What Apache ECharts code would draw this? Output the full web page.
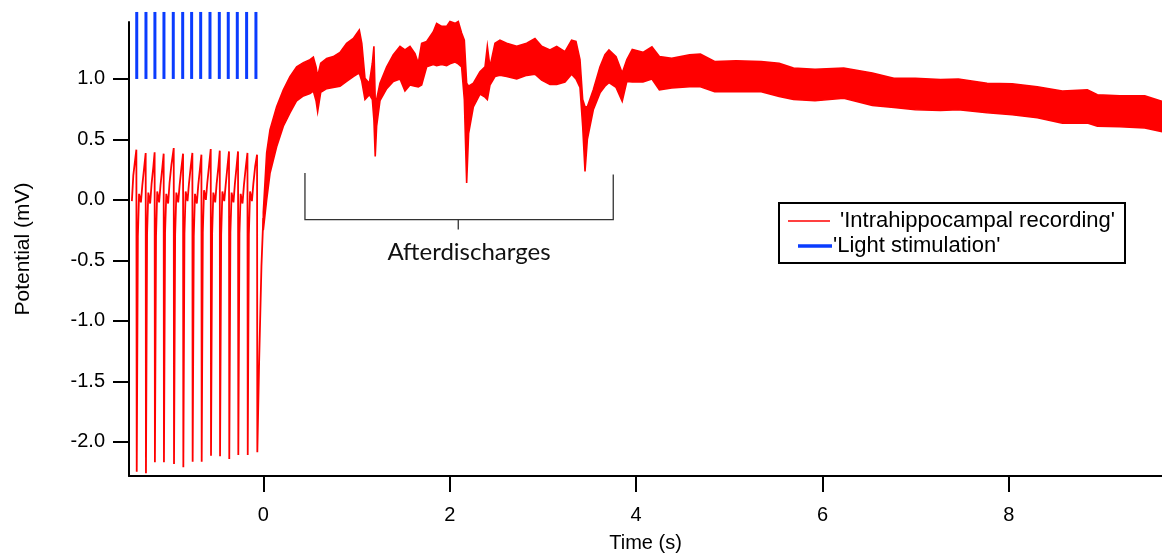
<!DOCTYPE html>
<html><head><meta charset="utf-8">
<script src="https://cdn.jsdelivr.net/npm/echarts/dist/echarts.min.js"></script>
<style>html,body{margin:0;padding:0;background:#fff}#c{width:1162px;height:558px}</style>
</head><body><div id="c"></div>
<script>
// ---- axis ranges and ticks ----
var xMin = -1.441, xMax = 9.643;
var yMin = -2.283, yMax = 1.471;
var xTicks = [0, 2, 4, 6, 8];
var yTicks = [-2.0, -1.5, -1.0, -0.5, 0.0, 0.5, 1.0];

// ---- light stimulation pulses (s) ----
var stimBarT = [-1.358, -1.259, -1.163, -1.066, -0.966, -0.865, -0.769, -0.672, -0.572, -0.472, -0.376, -0.279, -0.179, -0.079];
var stimOn = 1.0, stimTop = 1.554;

// ---- recording during stimulation (time s, potential mV) ----
var stimT = [-1.41, -1.395, -1.38, -1.362, -1.358,
 -1.346, -1.333, -1.313, -1.298, -1.278, -1.262, -1.259,
 -1.247, -1.234, -1.214, -1.199, -1.179, -1.166, -1.163,
 -1.151, -1.138, -1.118, -1.103, -1.083, -1.069, -1.066,
 -1.054, -1.041, -1.021, -1.006, -0.986, -0.961, -0.958,
 -0.946, -0.933, -0.913, -0.898, -0.878, -0.861, -0.858,
 -0.846, -0.833, -0.813, -0.798, -0.778, -0.761, -0.758,
 -0.746, -0.733, -0.713, -0.698, -0.678, -0.664, -0.661,
 -0.649, -0.636, -0.616, -0.601, -0.581, -0.564, -0.561,
 -0.549, -0.536, -0.516, -0.501, -0.481, -0.467, -0.464,
 -0.452, -0.439, -0.419, -0.404, -0.384, -0.368, -0.365,
 -0.353, -0.340, -0.320, -0.305, -0.285, -0.271, -0.268,
 -0.256, -0.243, -0.223, -0.208, -0.188, -0.170, -0.167,
 -0.155, -0.142, -0.122, -0.107, -0.087, -0.067, -0.064,
 -0.045, -0.020, 0.000];
var stimV = [-0.01, 0.20, 0.30, 0.415, -2.248,
 -0.30, 0.05, -0.02, 0.12, 0.27, 0.388, -2.261,
 -0.28, 0.06, -0.03, 0.13, 0.28, 0.393, -2.170,
 -0.30, 0.07, -0.02, 0.12, 0.27, 0.382, -2.170,
 -0.27, 0.05, -0.03, 0.14, 0.29, 0.429, -2.184,
 -0.29, 0.06, -0.02, 0.12, 0.27, 0.382, -2.211,
 -0.28, 0.07, -0.01, 0.13, 0.28, 0.388, -2.165,
 -0.30, 0.05, -0.03, 0.12, 0.27, 0.374, -2.165,
 -0.27, 0.08, 0.00, 0.14, 0.29, 0.421, -2.116,
 -0.28, 0.06, -0.02, 0.13, 0.28, 0.407, -2.120,
 -0.29, 0.07, -0.01, 0.12, 0.28, 0.401, -2.143,
 -0.27, 0.06, -0.02, 0.13, 0.29, 0.401, -2.110,
 -0.28, 0.05, -0.03, 0.12, 0.27, 0.388, -2.110,
 -0.29, 0.07, -0.01, 0.13, 0.28, 0.374, -2.087,
 -1.35, -0.55, -0.15];

// ---- recording after stimulation: noisy trace envelope (time s, upper / lower mV) ----
var bandT = [0.000, 0.036, 0.072, 0.143, 0.215, 0.286, 0.358, 0.430, 0.501, 0.537, 0.566, 0.583, 0.616, 0.680, 0.751, 0.823, 0.894, 0.966, 1.030, 1.057,
 1.091, 1.138, 1.170, 1.187, 1.201, 1.216, 1.252, 1.324, 1.395, 1.467, 1.520, 1.574, 1.628, 1.663, 1.699, 1.753, 1.824, 1.860, 1.914, 1.967,
 2.003, 2.057, 2.092, 2.128, 2.157, 2.182, 2.203, 2.254, 2.325, 2.379, 2.404, 2.432, 2.486, 2.539, 2.611, 2.719, 2.826, 2.915, 2.987, 3.076,
 3.148, 3.237, 3.308, 3.355, 3.398, 3.427, 3.452, 3.477, 3.541, 3.613, 3.666, 3.709, 3.785, 3.851, 3.901, 3.959, 4.074, 4.170, 4.250, 4.382,
 4.574, 4.690, 4.843, 5.074, 5.343, 5.535, 5.689, 5.920, 6.228, 6.535, 6.766, 6.997, 7.266, 7.458, 7.766, 8.035, 8.305, 8.574, 8.842, 8.950,
 9.189, 9.458, 9.643];
var bandUpper = [-0.10, 0.39, 0.58, 0.77, 0.91, 1.02, 1.10, 1.135, 1.16, 1.18, 1.10, 1.02, 1.13, 1.17, 1.185, 1.22, 1.295, 1.335, 1.405, 1.295,
 1.005, 0.965, 1.13, 1.27, 0.83, 0.83, 0.965, 1.10, 1.20, 1.27, 1.24, 1.27, 1.21, 1.13, 1.295, 1.31, 1.39, 1.46, 1.435, 1.435,
 1.475, 1.46, 1.475, 1.38, 1.32, 0.965, 0.94, 0.965, 1.06, 1.10, 1.27, 1.10, 1.295, 1.32, 1.295, 1.27, 1.295, 1.335, 1.27, 1.24,
 1.27, 1.225, 1.32, 1.31, 1.16, 0.83, 0.77, 0.77, 0.91, 1.10, 1.20, 1.24, 1.185, 1.05, 1.16, 1.245, 1.22, 1.265, 1.185, 1.17,
 1.20, 1.205, 1.145, 1.15, 1.145, 1.13, 1.09, 1.08, 1.09, 1.05, 1.005, 1.005, 0.995, 1.00, 0.965, 0.96, 0.935, 0.90, 0.91, 0.87,
 0.86, 0.86, 0.815];
var bandLower = [-0.25, 0.00, 0.22, 0.44, 0.61, 0.72, 0.82, 0.86, 0.88, 0.90, 0.82, 0.73, 0.89, 0.92, 0.93, 0.94, 0.98, 1.02, 1.05, 0.98,
 0.83, 0.87, 0.83, 0.66, 0.36, 0.61, 0.82, 0.92, 0.98, 1.00, 0.90, 0.95, 0.94, 0.935, 0.95, 1.10, 1.12, 1.11, 1.12, 1.11,
 1.125, 1.14, 1.125, 1.10, 0.83, 0.14, 0.55, 0.77, 0.875, 0.85, 0.83, 0.95, 1.02, 1.03, 1.02, 1.00, 1.03, 1.04, 0.99, 0.955,
 0.955, 0.975, 1.04, 1.00, 0.93, 0.61, 0.235, 0.50, 0.745, 0.885, 0.94, 0.97, 0.93, 0.815, 0.98, 0.975, 0.975, 1.00, 0.91, 0.925,
 0.935, 0.935, 0.895, 0.895, 0.895, 0.855, 0.83, 0.82, 0.84, 0.78, 0.765, 0.745, 0.74, 0.745, 0.72, 0.705, 0.68, 0.635, 0.635, 0.61,
 0.605, 0.595, 0.565];

// ---- annotation (data coordinates) ----
var brkT0 = 0.447, brkT1 = 3.755, brkTc = 2.092;
var brkTopL = 0.223, brkTopR = 0.209, brkBase = -0.163, brkTick = -0.245;
var brkLabelT = 2.207, brkLabelV = -0.43;

var RED = '#ff0000', BLUE = '#0a3cff';
var FONT = '"Liberation Sans", Arial, sans-serif';

var chart = echarts.init(document.getElementById('c'), null, {renderer: 'canvas'});

var option = {
  animation: false,
  backgroundColor: '#ffffff',
  grid: {left: 129, right: 0, top: 22, bottom: 81},
  xAxis: {
    type: 'value', min: xMin, max: xMax,
    name: 'Time (s)', nameLocation: 'middle', nameGap: 57,
    nameTextStyle: {fontSize: 20, color: '#000', fontFamily: FONT},
    axisLine: {show: true, onZero: false, lineStyle: {color: '#000', width: 2}},
    axisTick: {show: true, inside: false, length: 16, lineStyle: {color: '#000', width: 2}, customValues: xTicks},
    axisLabel: {show: true, margin: 29, fontSize: 20, color: '#000', fontFamily: FONT, customValues: xTicks,
      formatter: function (v) { return String(v); }},
    splitLine: {show: false}
  },
  yAxis: {
    type: 'value', min: yMin, max: yMax,
    name: 'Potential (mV)', nameLocation: 'middle', nameGap: 95, nameRotate: 90,
    nameTextStyle: {fontSize: 21, color: '#000', fontFamily: FONT},
    axisLine: {show: true, onZero: false, lineStyle: {color: '#000', width: 2}},
    axisTick: {show: true, inside: false, length: 16, lineStyle: {color: '#000', width: 2}, customValues: yTicks},
    axisLabel: {show: true, margin: 24, fontSize: 20, color: '#000', fontFamily: FONT, customValues: yTicks,
      formatter: function (v) { return v.toFixed(1); }},
    splitLine: {show: false}
  },
  series: [
    {
      name: "'Intrahippocampal recording'",
      type: 'custom', silent: true,
      data: bandT.map(function (t, i) { return [t, bandUpper[i], bandLower[i]]; }),
      encode: {x: 0, y: [1, 2]},
      renderItem: function (params, api) {
        if (params.dataIndex !== 0) return null;
        var pts = [], i;
        for (i = 0; i < bandT.length; i++) pts.push(api.coord([bandT[i], bandUpper[i]]));
        for (i = bandT.length - 1; i >= 0; i--) pts.push(api.coord([bandT[i], bandLower[i]]));
        return {type: 'polygon', shape: {points: pts}, style: {fill: RED, stroke: RED, lineWidth: 1.6, lineJoin: 'miter'}};
      }
    },
    {
      name: "'Intrahippocampal recording'",
      type: 'line', silent: true, showSymbol: false, symbol: 'none',
      data: stimT.map(function (t, i) { return [t, stimV[i]]; }),
      lineStyle: {color: RED, width: 1.8}
    },
    {
      name: "'Light stimulation'",
      type: 'custom', silent: true, clip: false,
      data: stimBarT.map(function (t) { return [t, stimOn, stimTop]; }),
      encode: {x: 0, y: [1, 2]},
      renderItem: function (params, api) {
        var p0 = api.coord([api.value(0), api.value(1)]);
        var p1 = api.coord([api.value(0), api.value(2)]);
        return {type: 'line', shape: {x1: p0[0], y1: p0[1], x2: p1[0], y2: p1[1]},
          style: {stroke: BLUE, lineWidth: 3}};
      }
    },
    {
      type: 'custom', silent: true, clip: false,
      data: [[brkT0, brkBase]],
      renderItem: function (params, api) {
        var a = api.coord([brkT0, brkTopL]), b = api.coord([brkT0, brkBase]);
        var c = api.coord([brkT1, brkBase]), d = api.coord([brkT1, brkTopR]);
        var e = api.coord([brkTc, brkBase]), f = api.coord([brkTc, brkTick]);
        var g = api.coord([brkLabelT, brkLabelV]);
        return {type: 'group', children: [
          {type: 'polyline', shape: {points: [a, b, c, d]}, style: {stroke: '#333', lineWidth: 1.3, fill: null}},
          {type: 'line', shape: {x1: e[0], y1: e[1], x2: f[0], y2: f[1]}, style: {stroke: '#333', lineWidth: 1.3}},
          {type: 'text', style: {text: 'Afterdischarges', x: g[0], y: g[1], font: '24px Lato, "Open Sans", sans-serif',
            fill: '#111', align: 'center', verticalAlign: 'middle', textAlign: 'center', textVerticalAlign: 'middle'}}
        ]};
      }
    }
  ],
  graphic: [
    {type: 'rect', z: 100, shape: {x: 779, y: 203, width: 346, height: 60},
      style: {fill: '#fff', stroke: '#000', lineWidth: 2}},
    {type: 'line', z: 101, shape: {x1: 788, y1: 221, x2: 830, y2: 221}, style: {stroke: RED, lineWidth: 1.5}},
    {type: 'text', z: 101, style: {text: "'Intrahippocampal recording'", x: 840, y: 221, font: '22px ' + FONT,
      fill: '#000', align: 'left', verticalAlign: 'middle', textAlign: 'left', textVerticalAlign: 'middle'}},
    {type: 'line', z: 101, shape: {x1: 798, y1: 246, x2: 832, y2: 246}, style: {stroke: BLUE, lineWidth: 3.5}},
    {type: 'text', z: 101, style: {text: "'Light stimulation'", x: 833, y: 246, font: '22px ' + FONT,
      fill: '#000', align: 'left', verticalAlign: 'middle', textAlign: 'left', textVerticalAlign: 'middle'}}
  ]
};
chart.setOption(option);
</script>
</body></html>
